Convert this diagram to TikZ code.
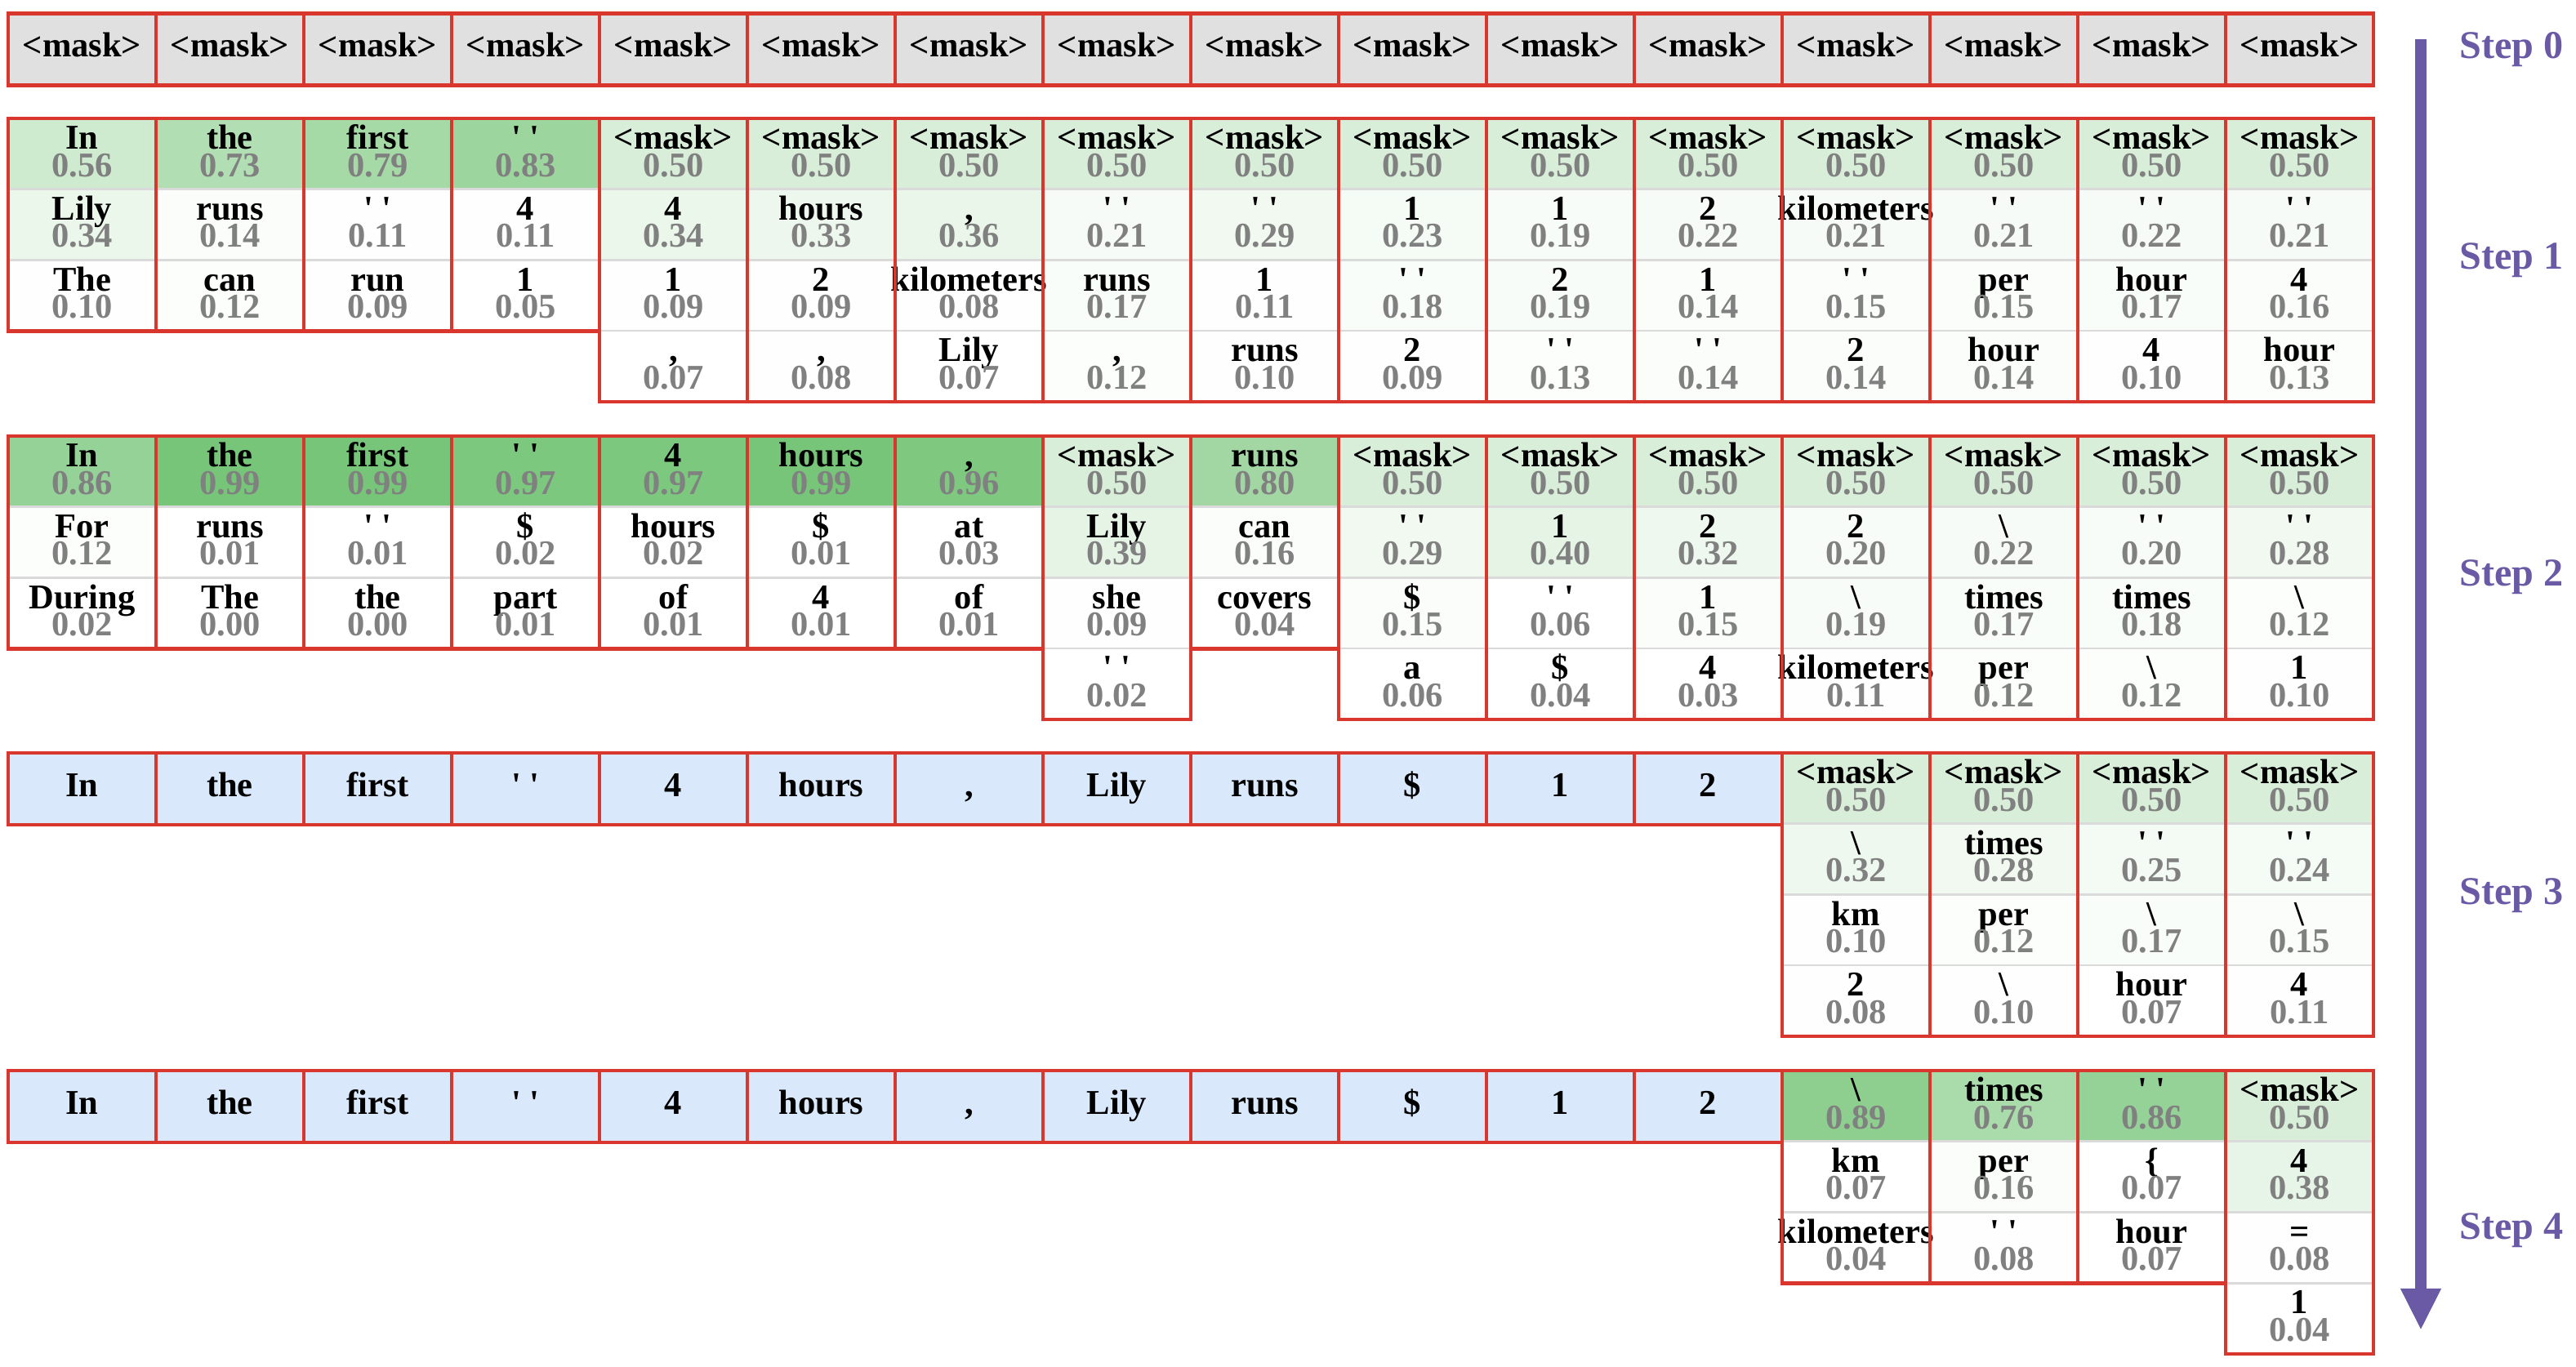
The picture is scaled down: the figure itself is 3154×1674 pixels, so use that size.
\documentclass[tikz,border=0pt]{standalone}
\usepackage{fontspec}
\setmainfont{Liberation Serif}
\usetikzlibrary{arrows.meta}

\definecolor{framered}{RGB}{217,54,46}
\definecolor{maskgray}{RGB}{224,224,224}
\definecolor{givenblue}{RGB}{218,232,252}
\definecolor{cellgreen}{RGB}{116,196,118}
\definecolor{sepgray}{RGB}{218,218,218}
\definecolor{probgray}{RGB}{128,128,128}
\definecolor{steppurple}{RGB}{106,90,165}

\pgfdeclarelayer{back}
\pgfsetlayers{back,main}

\newcommand{\cellfont}{\fontsize{12.1}{14}\selectfont\bfseries}
\newcommand{\mk}{<mask>}
\newcommand{\qq}{\textquotesingle\ \textquotesingle}
\newcommand{\bs}{\textbackslash}

% one column of candidates: step, column, top, token/prob list
\newcommand{\tokcol}[4]{%
  \pgfmathsetmacro\colx{100.5+181*#2}
  \foreach \tkn/\prb [count=\rr from 0] in {#4}{%
    \pgfmathsetmacro\rowy{#3+86.75*\rr}
    \pgfmathtruncatemacro\pct{100*pow(\prb+0.001,1.8)}
    \begin{pgfonlayer}{back}
      \node[cand, fill=cellgreen!\pct!white] (s#1c#2r\rr) at (\colx,\rowy) {};
    \end{pgfonlayer}
    \node[tok] (s#1c#2r\rr-w) at ([yshift=-0.375cm]s#1c#2r\rr.north) {\tkn};
    \node[prob] (s#1c#2r\rr-p) at ([yshift=-0.71cm]s#1c#2r\rr.north) {\prb};
    \xdef\lastrow{\rr}
  }
  \draw[colframe] (s#1c#2r0.north west) rectangle (s#1c#2r\lastrow.south east);
}

\begin{document}
\begin{tikzpicture}[x=0.01cm, y=-0.01cm]
\tikzstyle{cand} = [rectangle, anchor=north, draw=sepgray, line width=0.025cm,
    minimum width=1.81cm, minimum height=0.8675cm, inner sep=0pt, outer sep=0pt]
\tikzstyle{tok} = [anchor=base, inner sep=0pt, font=\cellfont]
\tikzstyle{prob} = [anchor=base, inner sep=0pt, font=\cellfont, text=probgray]
\tikzstyle{colframe} = [draw=framered, line width=0.045cm]
\tikzstyle{maskcell} = [rectangle, draw=framered, line width=0.045cm, fill=maskgray,
    minimum width=1.81cm, minimum height=0.875cm, inner sep=0pt, outer sep=0pt,
    text height=0.3cm, text depth=0.11cm, font=\cellfont]
\tikzstyle{given} = [maskcell, fill=givenblue]
\tikzstyle{steplabel} = [anchor=base west, inner sep=0pt, text=steppurple,
    font=\fontsize{13.7}{16}\selectfont\bfseries]
\tikzstyle{steparrow} = [draw=steppurple, line width=0.14cm,
    -{Triangle[width=0.46cm,length=0.51cm]}]

\useasboundingbox (0,0) rectangle (3154,1674);

% step 0
\foreach \c in {0,...,15}
  \node[maskcell] (s0-\c) at ({100.5+181*\c},60.5) {\mk};

% step 1
\tokcol{1}{0}{145}{In/0.56, Lily/0.34, The/0.10}
\tokcol{1}{1}{145}{the/0.73, runs/0.14, can/0.12}
\tokcol{1}{2}{145}{first/0.79, \qq/0.11, run/0.09}
\tokcol{1}{3}{145}{\qq/0.83, 4/0.11, 1/0.05}
\tokcol{1}{4}{145}{\mk/0.50, 4/0.34, 1/0.09, {,}/0.07}
\tokcol{1}{5}{145}{\mk/0.50, hours/0.33, 2/0.09, {,}/0.08}
\tokcol{1}{6}{145}{\mk/0.50, {,}/0.36, kilometers/0.08, Lily/0.07}
\tokcol{1}{7}{145}{\mk/0.50, \qq/0.21, runs/0.17, {,}/0.12}
\tokcol{1}{8}{145}{\mk/0.50, \qq/0.29, 1/0.11, runs/0.10}
\tokcol{1}{9}{145}{\mk/0.50, 1/0.23, \qq/0.18, 2/0.09}
\tokcol{1}{10}{145}{\mk/0.50, 1/0.19, 2/0.19, \qq/0.13}
\tokcol{1}{11}{145}{\mk/0.50, 2/0.22, 1/0.14, \qq/0.14}
\tokcol{1}{12}{145}{\mk/0.50, kilometers/0.21, \qq/0.15, 2/0.14}
\tokcol{1}{13}{145}{\mk/0.50, \qq/0.21, per/0.15, hour/0.14}
\tokcol{1}{14}{145}{\mk/0.50, \qq/0.22, hour/0.17, 4/0.10}
\tokcol{1}{15}{145}{\mk/0.50, \qq/0.21, 4/0.16, hour/0.13}

% step 2
\tokcol{2}{0}{534}{In/0.86, For/0.12, During/0.02}
\tokcol{2}{1}{534}{the/0.99, runs/0.01, The/0.00}
\tokcol{2}{2}{534}{first/0.99, \qq/0.01, the/0.00}
\tokcol{2}{3}{534}{\qq/0.97, \$/0.02, part/0.01}
\tokcol{2}{4}{534}{4/0.97, hours/0.02, of/0.01}
\tokcol{2}{5}{534}{hours/0.99, \$/0.01, 4/0.01}
\tokcol{2}{6}{534}{{,}/0.96, at/0.03, of/0.01}
\tokcol{2}{7}{534}{\mk/0.50, Lily/0.39, she/0.09, \qq/0.02}
\tokcol{2}{8}{534}{runs/0.80, can/0.16, covers/0.04}
\tokcol{2}{9}{534}{\mk/0.50, \qq/0.29, \$/0.15, a/0.06}
\tokcol{2}{10}{534}{\mk/0.50, 1/0.40, \qq/0.06, \$/0.04}
\tokcol{2}{11}{534}{\mk/0.50, 2/0.32, 1/0.15, 4/0.03}
\tokcol{2}{12}{534}{\mk/0.50, 2/0.20, \bs/0.19, kilometers/0.11}
\tokcol{2}{13}{534}{\mk/0.50, \bs/0.22, times/0.17, per/0.12}
\tokcol{2}{14}{534}{\mk/0.50, \qq/0.20, times/0.18, \bs/0.12}
\tokcol{2}{15}{534}{\mk/0.50, \qq/0.28, \bs/0.12, 1/0.10}

% steps 3 and 4: decoded prefix
\foreach \s/\yc in {3/966, 4/1355}
  \foreach \tkn [count=\c from 0] in {In, the, first, \qq, 4, hours, {,}, Lily, runs, \$, 1, 2}
    \node[given] (s\s-\c) at ({100.5+181*\c},\yc) {\tkn};

% step 3
\tokcol{3}{12}{922}{\mk/0.50, \bs/0.32, km/0.10, 2/0.08}
\tokcol{3}{13}{922}{\mk/0.50, times/0.28, per/0.12, \bs/0.10}
\tokcol{3}{14}{922}{\mk/0.50, \qq/0.25, \bs/0.17, hour/0.07}
\tokcol{3}{15}{922}{\mk/0.50, \qq/0.24, \bs/0.15, 4/0.11}

% step 4
\tokcol{4}{12}{1311}{\bs/0.89, km/0.07, kilometers/0.04}
\tokcol{4}{13}{1311}{times/0.76, per/0.16, \qq/0.08}
\tokcol{4}{14}{1311}{\qq/0.86, \{/0.07, hour/0.07}
\tokcol{4}{15}{1311}{\mk/0.50, 4/0.38, =/0.08, 1/0.04}

% time axis
\coordinate (arrtop) at (2964,48);
\coordinate (arrbot) at (2964,1629);
\draw[steparrow] (arrtop) -- (arrbot);
\foreach \s/\yb in {0/72, 1/330, 2/718, 3/1108, 4/1517}
  \node[steplabel] (step\s) at (3011,\yb) {Step \s};
\end{tikzpicture}
\end{document}
